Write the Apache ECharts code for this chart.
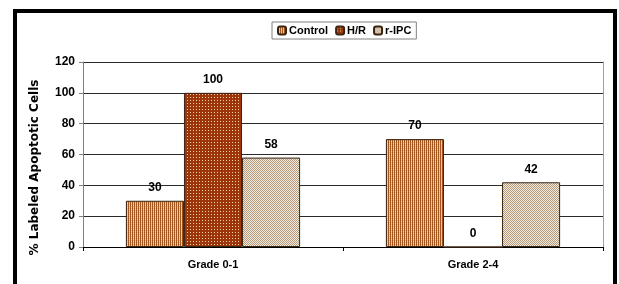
<!DOCTYPE html>
<html>
<head>
<meta charset="utf-8">
<script src="https://cdn.jsdelivr.net/npm/echarts@6/dist/echarts.min.js"></script>
<style>
  html, body { margin: 0; padding: 0; background: #fff; }
  #main { width: 619px; height: 284px; }
</style>
</head>
<body>
<div id="main"></div>
<script>
var categories = ['Grade 0-1', 'Grade 2-4'];
var seriesNames = ['Control', 'H/R', 'r-IPC'];
var control = [30, 70];
var hr = [100, 0];
var ripc = [58, 42];
var yTicks = [0, 20, 40, 60, 80, 100, 120];

// small canvas fills that imitate the old Excel pattern fills
function makePattern(w, h, draw) {
    var c = document.createElement('canvas');
    c.width = w; c.height = h;
    draw(c.getContext('2d'));
    return { image: c, repeat: 'repeat' };
}
var controlFill = makePattern(2, 2, function (g) {
    g.fillStyle = '#a4561f'; g.fillRect(0, 0, 2, 2);
    g.fillStyle = '#e9b47a'; g.fillRect(1, 0, 1, 2);
    g.fillStyle = '#f6d8b0'; g.fillRect(1, 1, 1, 1);
});
var hrFill = makePattern(3, 3, function (g) {
    g.fillStyle = '#9c360a'; g.fillRect(0, 0, 3, 3);
    g.fillStyle = '#f2d2a6'; g.fillRect(1, 1, 1, 1);
});
var ripcFill = makePattern(2, 2, function (g) {
    g.fillStyle = '#f2eadf'; g.fillRect(0, 0, 2, 2);
    g.fillStyle = '#b49a78'; g.fillRect(0, 0, 1, 1); g.fillRect(1, 1, 1, 1);
});

var boldFont = {
    fontFamily: 'Liberation Sans, Arial, sans-serif',
    fontWeight: 'bold',
    color: '#000'
};

function barSeries(name, data, fill) {
    return {
        name: name,
        type: 'bar',
        data: data,
        barGap: '0%',
        barCategoryGap: '33%',
        itemStyle: { color: fill, borderColor: '#3a2412', borderWidth: 1 },
        label: Object.assign({ show: true, position: 'top', distance: 7, fontSize: 12 }, boldFont)
    };
}

var chart = echarts.init(document.getElementById('main'), null, { renderer: 'canvas' });
chart.setOption({
    animation: false,
    backgroundColor: '#fff',
    graphic: [{
        type: 'polyline',
        shape: { points: [[15, 300], [15, 11], [615, 11], [615, 300]] },
        style: { stroke: '#000', lineWidth: 4, fill: null },
        silent: true
    }],
    legend: {
        data: seriesNames,
        left: 272,
        top: 22,
        itemWidth: 8,
        itemHeight: 8,
        itemGap: 7,
        padding: [3, 5, 3, 5],
        borderColor: '#808080',
        borderWidth: 1,
        textStyle: Object.assign({ fontSize: 11, padding: [0, 0, 0, -2] }, boldFont)
    },
    grid: { left: 83, right: 16, top: 62, bottom: 37 },
    xAxis: {
        type: 'category',
        data: categories,
        axisLine: { lineStyle: { color: '#000', width: 1 } },
        axisTick: { show: true, length: 4, lineStyle: { color: '#000' } },
        axisLabel: Object.assign({ fontSize: 11, margin: 12 }, boldFont)
    },
    yAxis: [{
        type: 'value',
        min: 0,
        max: 120,
        interval: 20,
        name: '% Labeled Apoptotic Cells',
        nameLocation: 'middle',
        nameGap: 42,
        nameTextStyle: {
            fontFamily: 'DejaVu Sans, sans-serif',
            fontWeight: 'bold',
            fontSize: 12,
            color: '#000',
            padding: [0, 26, 0, 0]
        },
        axisLine: { show: true, lineStyle: { color: '#808080' } },
        axisTick: { show: true, length: 4, lineStyle: { color: '#808080' } },
        axisLabel: Object.assign({
            fontSize: 12, margin: 8,
            formatter: function (v) { return yTicks.indexOf(v) >= 0 ? String(v) : ''; }
        }, boldFont),
        splitLine: { show: true, lineStyle: { color: '#2a2a2a', width: 1 } }
    }, {
        type: 'value',
        position: 'right',
        min: 0,
        max: 120,
        axisLine: { show: true, lineStyle: { color: '#a0a0a0' } },
        axisTick: { show: false },
        axisLabel: { show: false },
        splitLine: { show: false }
    }],
    series: [
        barSeries('Control', control, controlFill),
        barSeries('H/R', hr, hrFill),
        barSeries('r-IPC', ripc, ripcFill)
    ]
});
</script>
</body>
</html>
